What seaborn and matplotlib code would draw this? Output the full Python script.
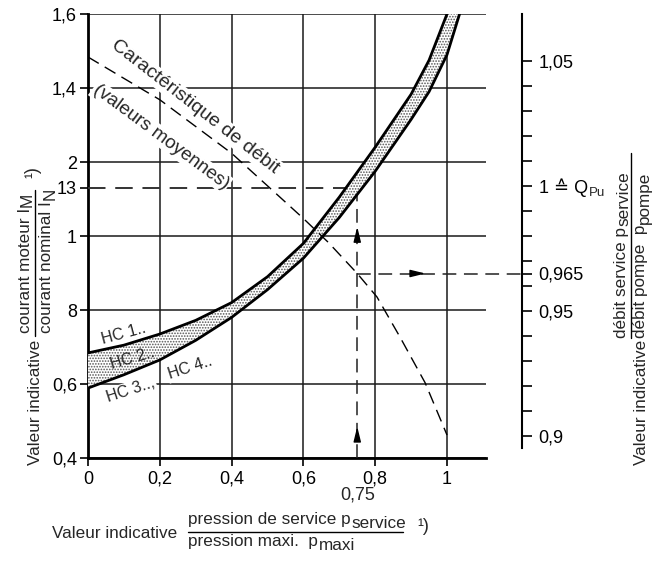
import numpy as np
import pandas as pd
import matplotlib
matplotlib.use("Agg")
import matplotlib.pyplot as plt
import seaborn as sns
from matplotlib.lines import Line2D

# ---------------- data ----------------
# upper boundary of the band (HC 1..)
p_upper = [0.0, 0.1, 0.2, 0.3, 0.4, 0.5, 0.6, 0.7, 0.8, 0.9, 0.95, 1.0]
i_upper = [0.684, 0.705, 0.735, 0.772, 0.82, 0.89, 0.98, 1.105, 1.24, 1.383, 1.475, 1.6]
# lower boundary of the band (HC 3.., HC 4..)
p_lower = [0.0, 0.1, 0.2, 0.3, 0.4, 0.5, 0.6, 0.7, 0.8, 0.9, 0.95, 1.0, 1.035]
i_lower = [0.589, 0.625, 0.665, 0.718, 0.78, 0.855, 0.94, 1.05, 1.175, 1.315, 1.39, 1.49, 1.6]
# flow characteristic (right axis units)
p_flow = [0.0, 0.2, 0.4, 0.535, 0.6, 0.669, 0.75, 0.805, 0.869, 0.939, 1.0]
q_flow = [1.0516, 1.0345, 1.0131, 0.9955, 0.987, 0.9775, 0.965, 0.9556, 0.9396, 0.9213, 0.9004]
# worked example
P_EX, I_EX, Q_EX = 0.75, 1.13, 0.965

x_ticks = [0.0, 0.2, 0.4, 0.6, 0.8, 1.0]
x_labels = ["0", "0,2", "0,4", "0,6", "0,8", "1"]
y_ticks = [0.4, 0.6, 0.8, 1.0, 1.2, 1.4, 1.6]
y_labels = ["0,4", "0,6", "8", "1", "2", "1,4", "1,6"]
q_ticks = [0.9, 0.95, 0.965, 1.0, 1.05]
q_labels = ["0,9", "0,95", "0,965", "1 \u2259 Q", "1,05"]
q_sub = "Pu"
q_minor = [0.91, 0.92, 0.93, 0.94, 0.96, 0.97, 0.98, 0.99, 1.01, 1.02, 1.03, 1.04]

# ---------------- style ----------------
sns.set_style("white")
plt.rcParams["font.family"] = ["Liberation Sans", "DejaVu Sans"]
plt.rcParams["hatch.linewidth"] = 0.8

W, H = 655, 561
fig = plt.figure(figsize=(W / 100, H / 100), dpi=100)
ax = fig.add_axes([88 / W, 1 - 458 / H, (486 - 88) / W, (458 - 14) / H])

XMAX = 398 / 359
YMIN, YMAX = 0.4, 1.6
Q0, QK = 0.832, 0.148  # right-axis value = Q0 + QK * left-axis value

# band
ax.fill(p_upper + p_lower[::-1], i_upper + i_lower[::-1], facecolor="white",
        edgecolor="#555555", hatch="......", linewidth=0, zorder=4)
sns.lineplot(data=pd.DataFrame({"p": p_upper, "i": i_upper}), x="p", y="i", ax=ax,
             color="black", linewidth=2.0, estimator=None, sort=False, zorder=5)
sns.lineplot(data=pd.DataFrame({"p": p_lower, "i": i_lower}), x="p", y="i", ax=ax,
             color="black", linewidth=2.0, estimator=None, sort=False, zorder=5)

ax.set_xlim(0, XMAX)
ax.set_ylim(YMIN, YMAX)
ax.set_xlabel("")
ax.set_ylabel("")

ax.set_xticks(x_ticks, labels=x_labels)
ax.set_xticks([P_EX], labels=["0,75"], minor=True)
ax.set_yticks(y_ticks, labels=y_labels)
ax.set_yticks([I_EX], labels=["13"], minor=True)
ax.tick_params(axis="x", which="major", bottom=True, length=6, width=1.2, pad=3,
               labelsize=13, direction="out", colors="black")
ax.tick_params(axis="x", which="minor", bottom=True, length=0, pad=20.5, labelsize=13)
ax.tick_params(axis="y", which="both", left=True, length=6, width=1.2, pad=2,
               labelsize=13, direction="out", colors="black")
ax.grid(True, which="major", color="#1a1a1a", linewidth=1.1)
ax.grid(False, which="minor")
for s in ["top", "right"]:
    ax.spines[s].set_visible(False)
for s in ["left", "bottom"]:
    ax.spines[s].set_color("black")
    ax.spines[s].set_linewidth(2.0)

# guide lines of the example
dash = (0, (9, 5))
ax.plot([0, P_EX], [I_EX, I_EX], color="#333333", lw=1.4, linestyle=dash, zorder=3)
ax.plot([P_EX, P_EX], [YMIN, I_EX], color="#222222", lw=1.1, linestyle=dash, zorder=3)
aprops = dict(arrowstyle="-|>,head_length=0.9,head_width=0.22", color="black",
              lw=1, shrinkA=0, shrinkB=0, mutation_scale=10)
ax.annotate("", xy=(P_EX, 0.485), xytext=(P_EX, 0.46), arrowprops=aprops, zorder=6)
ax.annotate("", xy=(P_EX, 1.025), xytext=(P_EX, 1.0), arrowprops=aprops, zorder=6)

# labels inside plot
ax.text(0.298, 1.349, "Caractéristique de débit", rotation=-37.8, rotation_mode="anchor",
        ha="center", va="center", fontsize=14, zorder=3,
        bbox=dict(facecolor="white", edgecolor="none", pad=1.0))
ax.text(0.203, 1.268, "(valeurs moyennes)", rotation=-36.5, rotation_mode="anchor",
        ha="center", va="center", fontsize=13.5, zorder=3,
        bbox=dict(facecolor="white", edgecolor="none", pad=1.0))
hc_kw = dict(rotation_mode="anchor", ha="center", va="center", fontsize=11.5, zorder=3,
             bbox=dict(facecolor="white", edgecolor="none", pad=0.8))
ax.text(0.10, 0.735, "HC 1..", rotation=15, **hc_kw)
ax.text(0.125, 0.668, "HC 2..", rotation=16, rotation_mode="anchor", ha="center",
        va="center", fontsize=11.5, zorder=6)
ax.text(0.12, 0.584, "HC 3..,", rotation=18, **hc_kw)
ax.text(0.284, 0.643, "HC 4..", rotation=18, **hc_kw)

# right axis
ax2 = ax.twinx()
sns.lineplot(data=pd.DataFrame({"p": p_flow, "q": q_flow}), x="p", y="q", ax=ax2,
             color="black", linewidth=1.0, linestyle=dash, estimator=None, sort=False)
ax2.set_ylim(Q0 + QK * YMIN, Q0 + QK * YMAX)
ax2.set_xlim(0, XMAX)
ax2.set_ylabel("")
ax2.set_xlabel("")
ax2.plot([P_EX, XMAX * (1 + 36 / 398)], [Q_EX, Q_EX], color="#222222", lw=1.1,
         linestyle=dash, clip_on=False)
ax2.annotate("", xy=(0.94, Q_EX), xytext=(0.91, Q_EX), arrowprops=aprops)
for s in ["left", "top", "bottom"]:
    ax2.spines[s].set_visible(False)
ax2.spines["right"].set_position(("outward", 36 * 0.72))
ax2.spines["right"].set_linewidth(1.5)
ax2.spines["right"].set_color("black")
ax2.spines["right"].set_bounds(0.8952, Q0 + QK * YMAX)
ax2.set_yticks(q_ticks, labels=q_labels)
ax2.set_yticks(q_minor, minor=True)
ax2.tick_params(axis="y", which="both", right=True, length=7, width=1.2, pad=5,
                labelsize=13, direction="out", colors="black")
ax2.grid(False)

# subscript of the "1 ≙ Q" tick label
fig.canvas.draw()
for lab in ax2.get_yticklabels():
    if lab.get_text() == q_labels[3]:
        bb = lab.get_window_extent()
        fig.text((bb.x1 + 1) / W, (bb.y0 + 1) / H, q_sub, fontsize=9.5,
                 ha="left", va="baseline")

# ---------------- axis titles (composed) ----------------
def F(x, y):
    return x / W, 1 - y / H

def txt(x, y, s, rot=0, size=12.3, **kw):
    return fig.text(*F(x, y), s, rotation=rot, rotation_mode="anchor",
                    ha="left", va="baseline", fontsize=size, **kw)

def with_sub(x, y, main, sub, rot=0, size=12.3, drop=4):
    t = txt(x, y, main, rot, size)
    fig.canvas.draw()
    bb = t.get_window_extent()
    if rot == 0:
        sx, sy = bb.x1 + 1, (H - y) - drop
    else:
        sx, sy = x + drop, bb.y1 + 1
    fig.text(sx / W, sy / H, sub, rotation=rot, rotation_mode="anchor",
             ha="left", va="baseline", fontsize=size)

# x title
txt(52, 538, "Valeur indicative")
with_sub(188, 524, "pression de service p", "service")
fig.add_artist(Line2D([188 / W, 403 / W], [1 - 532 / H, 1 - 532 / H], color="black", lw=1))
with_sub(188, 546, "pression maxi.  p", "maxi")
txt(417, 531, "\u00b9)", size=13)

# left title
txt(40, 465, "Valeur indicative", rot=90)
with_sub(30, 333, "courant moteur I", "M", rot=90, drop=2)
fig.add_artist(Line2D([34.5 / W, 34.5 / W], [1 - 336 / H, 1 - 190 / H], color="black", lw=1))
with_sub(51, 333, "courant nominal I", "N", rot=90)
txt(37, 178, "\u00b9)", rot=90, size=13)

# right title
with_sub(626, 338, "débit service p", "service", rot=90, drop=2)
fig.add_artist(Line2D([631 / W, 631 / W], [1 - 338 / H, 1 - 153 / H], color="black", lw=1))
with_sub(645, 338, "débit pompe  p", "pompe", rot=90)
txt(646, 465, "Valeur indicative", rot=90)

fig.savefig("out.png", dpi=100)
